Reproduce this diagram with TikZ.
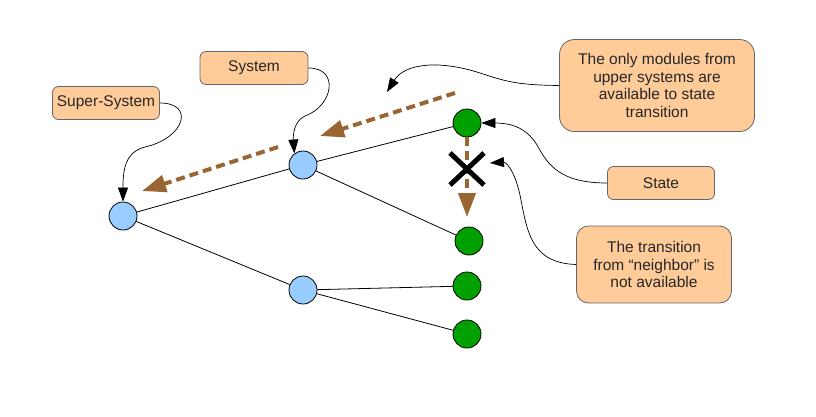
\documentclass[tikz,border=0pt]{standalone}
\usepackage{fontspec}
\setmainfont{Liberation Sans}
\usetikzlibrary{arrows.meta,calc}
\definecolor{peach}{HTML}{FFCC99}
\definecolor{sky}{HTML}{99CCFF}
\definecolor{leaf}{HTML}{00A000}
\definecolor{bronze}{HTML}{996633}
\tikzset{
  sysnode/.style={circle,draw,line width=0.8pt,fill=sky,minimum size=28pt,inner sep=0pt},
  statenode/.style={circle,draw,line width=0.8pt,fill=leaf,minimum size=28pt,inner sep=0pt},
  note/.style={draw=black!60,line width=0.8pt,fill=peach,rounded corners=6pt,align=center,
    inner sep=0pt,font=\fontsize{15.5}{17.6}\selectfont,text=black!85},
  pointer/.style={-{Triangle[length=14pt,width=10pt]},line width=0.7pt},
  flow/.style={-{Triangle[length=24pt,width=17pt]},bronze,line width=4pt,dash pattern=on 9pt off 5pt}
}
\begin{document}
\begin{tikzpicture}[x=1pt,y=-1pt]
\useasboundingbox (0,0) rectangle (816,416);

% tree of systems and states
\node[sysnode] (super) at (123,216) {};
\node[sysnode] (sys) at (303,165) {};
\node[sysnode] (sysb) at (303,290) {};
\node[statenode] (st) at (467,123) {};
\node[statenode] (nb) at (469,241) {};
\node[statenode] (stc) at (467,286) {};
\node[statenode] (std) at (467,334) {};

\draw[line width=0.8pt] (super) -- (sys) (super) -- (sysb);
\draw[line width=0.8pt] (sys) -- (st) (sys) -- (nb);
\draw[line width=0.8pt] (sysb) -- (stc) (sysb) -- (std);

% notes
\node[note,minimum width=107pt,minimum height=33pt] (nsuper) at (106,103) {Super-System};
\node[note,minimum width=108pt,minimum height=33pt] (nsys) at (254,68) {System};
\node[note,minimum width=195pt,minimum height=92pt,rounded corners=15pt] (nmod) at (657,85.5)
  {The only modules from\\upper systems are\\available to state\\transition};
\node[note,minimum width=107pt,minimum height=33pt] (nstate) at (661,183) {State};
\node[note,minimum width=155pt,minimum height=77pt,rounded corners=12pt] (ntrans) at (654,264.5)
  {The transition\\from “neighbor” is\\not available};

% transitions
\coordinate (fa) at (455,93);
\coordinate (ta) at (320,136);
\coordinate (fb) at (278,147);
\coordinate (tb) at (142,191);
\coordinate (tc) at (467,217);
\draw[flow] (fa) -- (ta);
\draw[flow] (fb) -- (tb);
\draw[flow] (st) -- (tc);

\coordinate (x) at (467,169);
\draw[line width=5pt] ($(x)+(-17,-16)$) -- ($(x)+(17,16)$) ($(x)+(-17,16)$) -- ($(x)+(17,-16)$);

% pointers
\coordinate (upper) at (387,92);
\coordinate (nx) at (490,163);
\draw[pointer] (nsuper.east) .. controls (195,103) and (185,138) .. (145,147) .. controls (125,152) and (123,170) .. (super.north);
\draw[pointer] (nsys.east) .. controls (340,68) and (333,106) .. (305,116) .. controls (294,121) and (293,135) .. (sys.127);
\draw[pointer] (nmod.west) .. controls (515,85) and (505,81) .. (480,73) .. controls (440,60) and (405,63) .. (upper);
\draw[pointer] (nstate.west) .. controls (560,183) and (548,165) .. (537,145) .. controls (526,127) and (510,123) .. (st.east);
\draw[pointer] (ntrans.west) .. controls (530,263) and (527,230) .. (520,195) .. controls (514,168) and (505,162) .. (nx);

\end{tikzpicture}
\end{document}
